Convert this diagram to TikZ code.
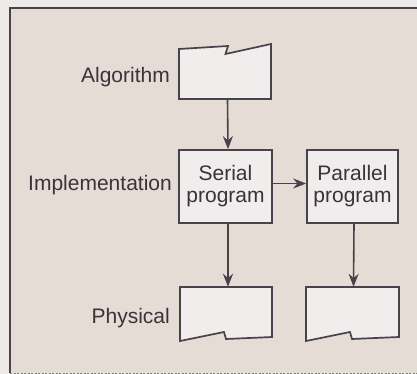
\documentclass[tikz,border=0pt]{standalone}
\usepackage{fontspec}
\setmainfont{Liberation Sans}
\usetikzlibrary{arrows.meta,calc}

\definecolor{paper}{HTML}{E5DCD6}
\definecolor{margin}{HTML}{EEEAE9}
\definecolor{boxfill}{HTML}{F0EDEC}
\definecolor{ink}{HTML}{48424A}
\definecolor{txt}{HTML}{3A3338}

\tikzset{
  outline/.style={draw=ink, line width=1.7pt, fill=boxfill, line join=miter},
  stage/.style={outline, rectangle, inner sep=0pt, align=center,
    font=\fontsize{21}{22}\selectfont, text=txt},
  slot/.style={rectangle, inner sep=0pt, draw=none},
  level/.style={font=\fontsize{21}{24}\selectfont, text=txt, inner sep=0pt},
  flow/.style={draw=ink, line width=1.6pt,
    -{Stealth[length=13pt,width=10pt]}},
}

\begin{document}
\begin{tikzpicture}[x=1pt,y=-1pt]
  % page and frame
  \useasboundingbox (0,0) rectangle (417,374);
  \fill[margin] (0,0) rectangle (417,374);
  \fill[paper] (10,8) rectangle (417,373);
  \draw[ink, line width=2.2pt] (10,373) -- (10,8) -- (417,8);
  \draw[ink!70, line width=1pt, dash pattern=on 2pt off 1.5pt] (10,373) -- (417,373);

  % algorithm level: document-shaped box with a notch in the top edge
  \node[slot, minimum width=92, minimum height=50] (alg) at (225,74) {};
  \draw[outline] (179,49) -- (228,46) -- (225.5,54) -- (271,44) -- (271,99) -- (179,99) -- cycle;

  % implementation level
  \node[stage, minimum width=93, minimum height=73] (ser) at (225.5,186.5) {Serial\\program};
  \node[stage, minimum width=91, minimum height=73] (par) at (352.5,186.5) {Parallel\\program};

  % physical level: document-shaped boxes with a notch in the bottom edge
  \node[slot, minimum width=92, minimum height=50] (ph1) at (226,312) {};
  \node[slot, minimum width=93, minimum height=50] (ph2) at (352.5,312) {};
  \draw[outline] (180,287) -- (272,287) -- (272,337) -- (226,339) -- (224,332) -- (180,341) -- cycle;
  \draw[outline] (306,287) -- (399,287) -- (399,337) -- (352,339) -- (350,332) -- (306,341) -- cycle;

  % level labels
  \node[level, anchor=base east] (lalg) at (170,83) {Algorithm};
  \node[level, anchor=base east] (limp) at (172,190) {Implementation};
  \node[level, anchor=base east] (lphy) at (170,323) {Physical};

  % connectors
  \draw[flow] ([xshift=2.5pt]alg.south) -- ([xshift=2.5pt]ser.north);
  \draw[flow] ([yshift=3pt]ser.east) -- ([yshift=3pt]par.west);
  \draw[flow] ([xshift=2.5pt]ser.south) -- ([xshift=2pt]ph1.north);
  \draw[flow] ([xshift=1.5pt]par.south) -- ([xshift=1pt]ph2.north);
\end{tikzpicture}
\end{document}
